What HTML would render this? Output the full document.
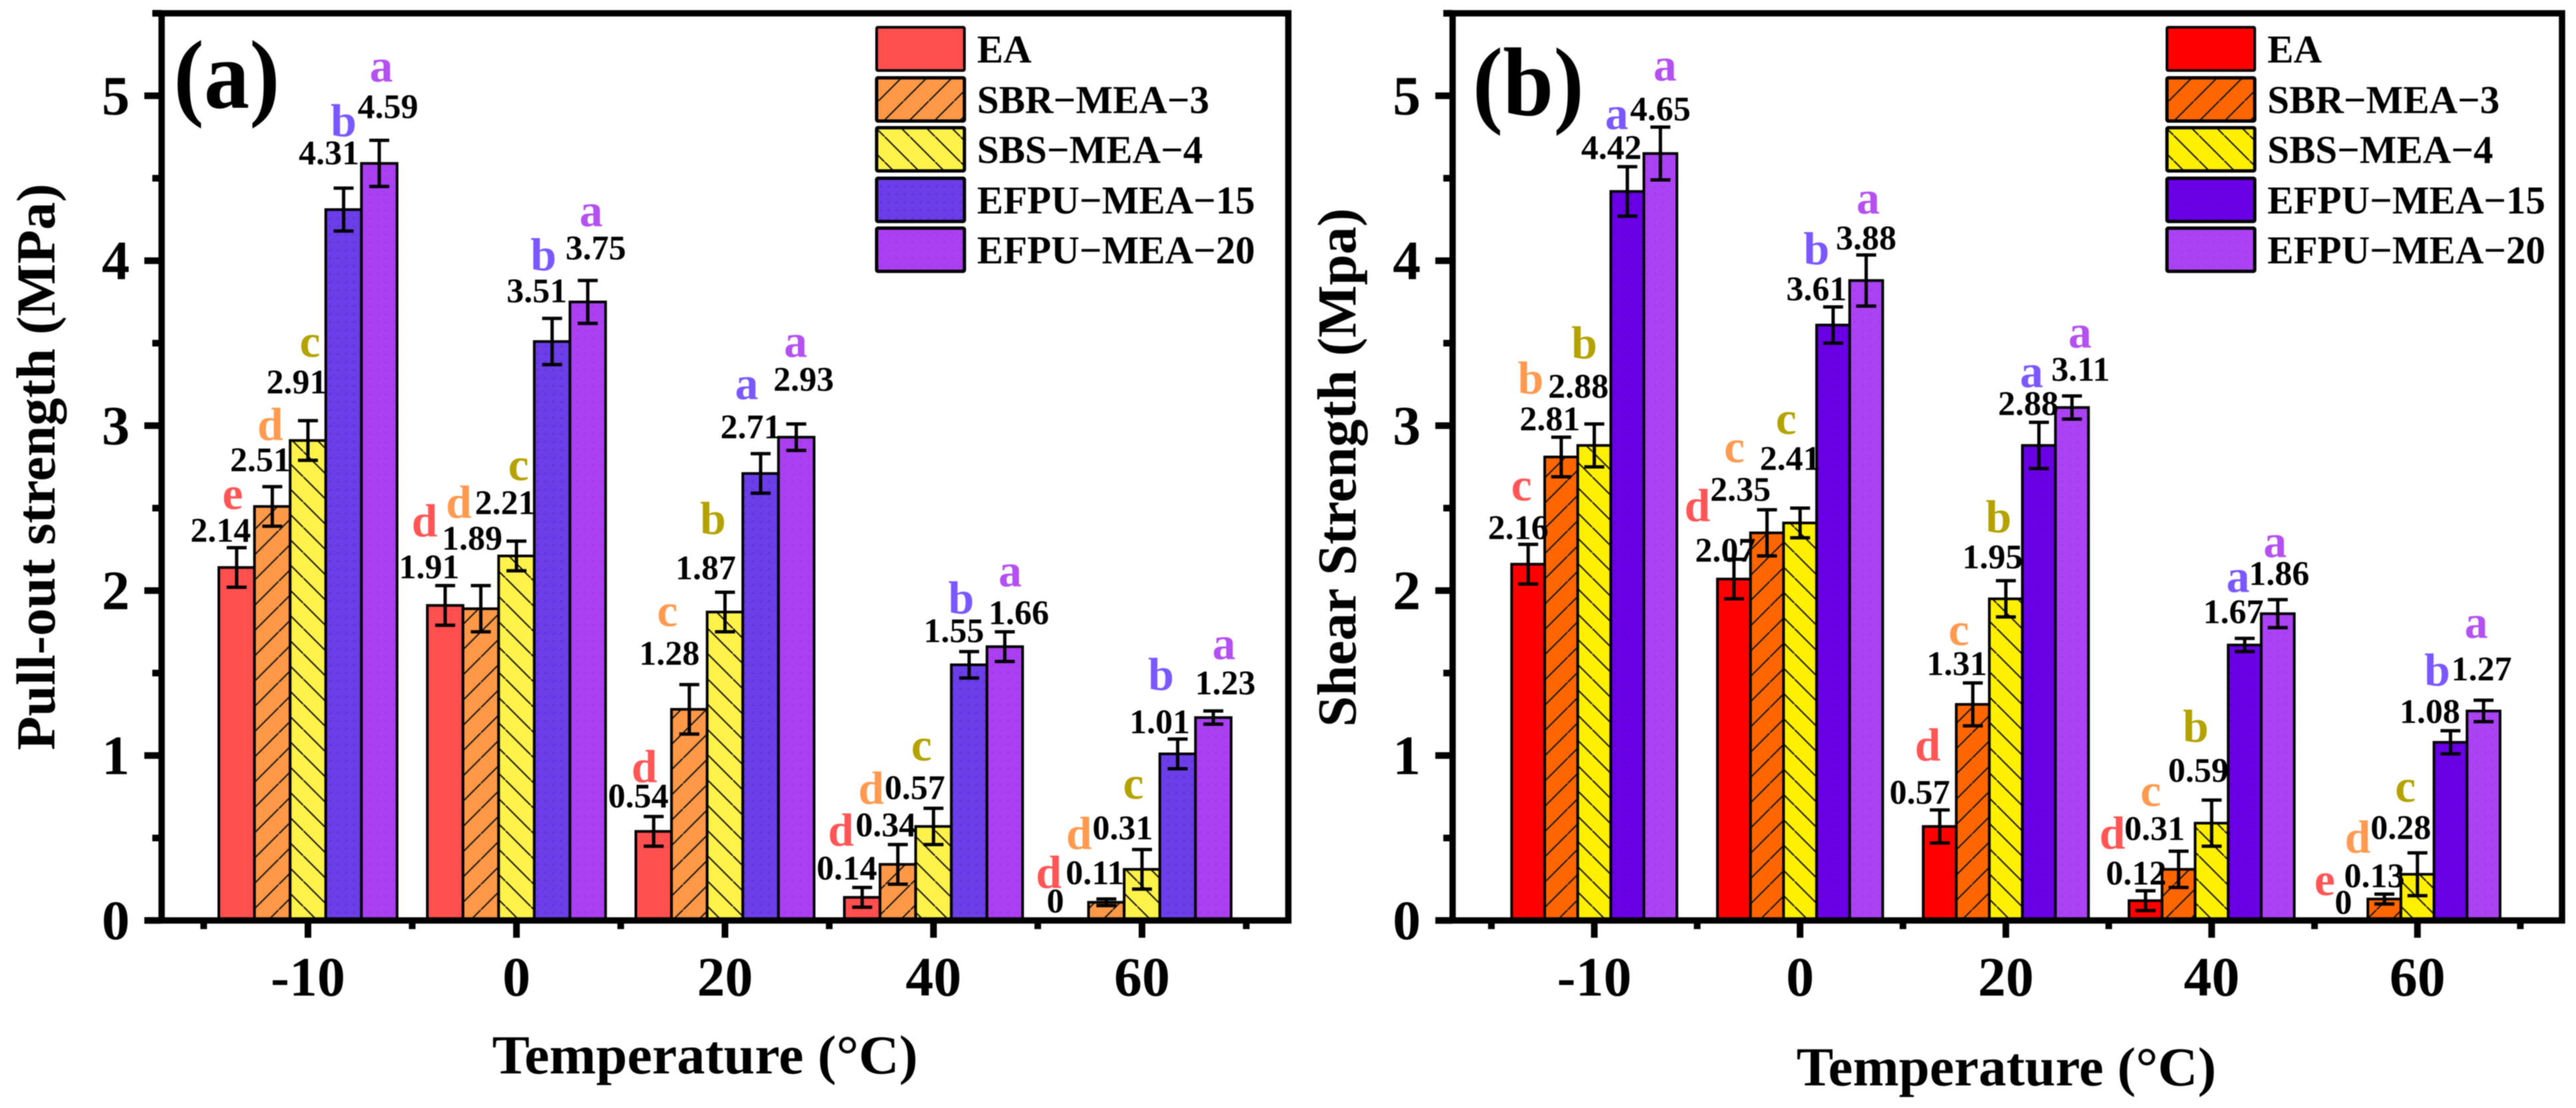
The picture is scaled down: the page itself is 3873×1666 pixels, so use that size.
<!DOCTYPE html>
<html lang="en">
<head>
<meta charset="utf-8">
<title>Pull-out and shear strength vs temperature</title>
<style>
html,body{margin:0;padding:0;background:#fff;}
svg{display:block;filter:blur(0.7px);}
text{font-family:"Liberation Serif",serif;font-weight:bold;fill:#000;}
</style>
</head>
<body>
<svg id="figure" xmlns="http://www.w3.org/2000/svg" width="3873" height="1666" viewBox="0 0 3873 1666">
  <rect x="0" y="0" width="3873" height="1666" fill="#fff"/>
  <defs id="defs"></defs>
  <g id="panel-a"></g>
  <g id="panel-b"></g>
  <text transform="translate(261,162) scale(1,1.07)" font-size="137">(a)</text>
  <text transform="translate(2214,173) scale(1,1.07)" font-size="137">(b)</text>
  <text transform="translate(82,1128) rotate(-90)" font-size="83" textLength="852" lengthAdjust="spacingAndGlyphs">Pull-out strength (MPa)</text>
  <text transform="translate(2038,1093) rotate(-90)" font-size="83" textLength="780" lengthAdjust="spacingAndGlyphs">Shear Strength (Mpa)</text>
  <text x="740" y="1614" font-size="83" textLength="640" lengthAdjust="spacingAndGlyphs">Temperature (°C)</text>
  <text x="2701" y="1632" font-size="83" textLength="631" lengthAdjust="spacingAndGlyphs">Temperature (°C)</text>
</svg>
<script>
// ---------- chart data ----------
const categories = ['-10', '0', '20', '40', '60'];
const seriesNames = ['EA', 'SBR\u2212MEA\u22123', 'SBS\u2212MEA\u22124', 'EFPU\u2212MEA\u221215', 'EFPU\u2212MEA\u221220'];
const yTickLabels = [0, 1, 2, 3, 4, 5];

const pulloutEA = [2.14, 1.91, 0.54, 0.14, 0];
const pulloutSBR = [2.51, 1.89, 1.28, 0.34, 0.11];
const pulloutSBS = [2.91, 2.21, 1.87, 0.57, 0.31];
const pulloutEFPU15 = [4.31, 3.51, 2.71, 1.55, 1.01];
const pulloutEFPU20 = [4.59, 3.75, 2.93, 1.66, 1.23];

const pulloutErrEA = [0.12, 0.12, 0.09, 0.06, 0];
const pulloutErrSBR = [0.12, 0.14, 0.15, 0.12, 0.02];
const pulloutErrSBS = [0.12, 0.09, 0.12, 0.11, 0.12];
const pulloutErrEFPU15 = [0.13, 0.14, 0.12, 0.08, 0.09];
const pulloutErrEFPU20 = [0.14, 0.13, 0.08, 0.09, 0.04];

const pulloutLettersEA = ['e', 'd', 'd', 'd', 'd'];
const pulloutLettersSBR = ['d', 'd', 'c', 'd', 'd'];
const pulloutLettersSBS = ['c', 'c', 'b', 'c', 'c'];
const pulloutLettersEFPU15 = ['b', 'b', 'a', 'b', 'b'];
const pulloutLettersEFPU20 = ['a', 'a', 'a', 'a', 'a'];

const shearEA = [2.16, 2.07, 0.57, 0.12, 0];
const shearSBR = [2.81, 2.35, 1.31, 0.31, 0.13];
const shearSBS = [2.88, 2.41, 1.95, 0.59, 0.28];
const shearEFPU15 = [4.42, 3.61, 2.88, 1.67, 1.08];
const shearEFPU20 = [4.65, 3.88, 3.11, 1.86, 1.27];

const shearErrEA = [0.12, 0.12, 0.10, 0.06, 0];
const shearErrSBR = [0.12, 0.14, 0.13, 0.11, 0.03];
const shearErrSBS = [0.13, 0.09, 0.11, 0.14, 0.13];
const shearErrEFPU15 = [0.15, 0.11, 0.14, 0.04, 0.07];
const shearErrEFPU20 = [0.16, 0.155, 0.07, 0.085, 0.065];

const shearLettersEA = ['c', 'd', 'd', 'd', 'e'];
const shearLettersSBR = ['b', 'c', 'c', 'c', 'd'];
const shearLettersSBS = ['b', 'c', 'b', 'b', 'c'];
const shearLettersEFPU15 = ['a', 'b', 'a', 'a', 'b'];
const shearLettersEFPU20 = ['a', 'a', 'a', 'a', 'a'];

// ---------- layout (not data): label nudges relative to each bar top ----------
// per bar: [valueDx, valueDy, letterDx, letterDy]
const labelNudgeA = [
  [[-24,-39,-6,-88],[-18,-53,-3,-100],[-17,-71,3,-126],[-22,-68,0,-110],[13,-68,3,-123]],
  [[-24,-41,-31,-104],[-13,-89,-33,-137],[-17,-63,3,-114],[-23,-59,-13,-107],[12,-64,5,-114]],
  [[-23,-36,-14,-74],[-30,-67,-33,-125],[-29,-49,-18,-117],[-15,-53,-21,-112],[11,-70,-1,-121]],
  [[-23,-27,-32,-78],[-18,-42,-40,-91],[-28,-41,-18,-99],[-23,-34,-12,-77],[21,-34,8,-91]],
  [[-23,-12,-33,-49],[-17,-27,-41,-80],[-29,-45,-13,-106],[-27,-31,-25,-96],[18,-35,16,-88]]
];
const labelNudgeB = [
  [[-15,-38,-10,-96],[-17,-40,-46,-95],[-24,-72,-15,-131],[-24,-49,-16,-94],[0,-50,7,-110]],
  [[-13,-26,-55,-87],[-40,-48,-49,-106],[-15,-80,-21,-134],[-25,-37,-25,-91],[0,-47,3,-101]],
  [[-30,-34,-18,-99],[-24,-44,-21,-89],[-20,-46,-11,-100],[-16,-46,-11,-88],[13,-40,12,-90]],
  [[-14,-24,-50,-78],[-36,-44,-42,-95],[-20,-62,-24,-122],[-17,-33,-10,-80],[2,-43,-4,-85]],
  [[-12,-10,-40,-38],[-15,-18,-40,-70],[-25,-53,-18,-109],[-31,-29,-20,-85],[-3,-46,-11,-110]]
];
const letterColors = ['#ff5555', '#ff9a50', '#b3a200', '#7b57ff', '#b450f0'];

const NS = 'http://www.w3.org/2000/svg';
function mk(parent, tag, attrs, txt) {
  const el = document.createElementNS(NS, tag);
  for (const k in attrs) el.setAttribute(k, attrs[k]);
  if (txt !== undefined) el.textContent = txt;
  parent.appendChild(el);
  return el;
}

// ---------- fill patterns ----------
const defs = document.getElementById('defs');
function hatch(id, color, period, dir, dx, dy) {
  const p = mk(defs, 'pattern', {id: id, patternUnits: 'userSpaceOnUse', width: period, height: period, patternTransform: 'translate(' + dx + ',' + dy + ')'});
  mk(p, 'rect', {x: 0, y: 0, width: period, height: period, fill: color});
  const pts = dir > 0 ? [[-2, period + 2], [period + 2, -2]] : [[-2, -2], [period + 2, period + 2]];
  mk(p, 'line', {x1: pts[0][0], y1: pts[0][1], x2: pts[1][0], y2: pts[1][1], stroke: '#1a1a1a', 'stroke-width': 2.2});
}
function dots(id, color, dotColor) {
  const p = mk(defs, 'pattern', {id: id, patternUnits: 'userSpaceOnUse', width: 12, height: 12});
  mk(p, 'rect', {x: 0, y: 0, width: 12, height: 12, fill: color});
  mk(p, 'rect', {x: 3, y: 3, width: 3, height: 3, fill: dotColor});
}
function fillSet(prefix, colors, legSbr, legSbs) {
  hatch(prefix + '-sbr', colors[1], 38, 1, 1, 0);
  hatch(prefix + '-sbs', colors[2], 38, -1, 0, 33);
  hatch(prefix + '-sbr-leg', colors[1], 38, 1, legSbr, 0);
  hatch(prefix + '-sbs-leg', colors[2], 38, -1, 0, legSbs);
  dots(prefix + '-ef15', colors[3], colors[5]);
  dots(prefix + '-ef20', colors[4], colors[6]);
  return {
    bar: [colors[0], 'url(#' + prefix + '-sbr)', 'url(#' + prefix + '-sbs)', 'url(#' + prefix + '-ef15)', 'url(#' + prefix + '-ef20)'],
    leg: [colors[0], 'url(#' + prefix + '-sbr-leg)', 'url(#' + prefix + '-sbs-leg)', 'url(#' + prefix + '-ef15)', 'url(#' + prefix + '-ef20)']
  };
}
const fillsA = fillSet('a', ['#ff4f4f', '#ff9847', '#fff24a', '#6b3ee8', '#ab3ff2', '#5f33d6', '#a238e6'], 28.5, 15.5);
const fillsB = fillSet('b', ['#ff0000', '#ff6600', '#fff000', '#6a00e6', '#ab42f4', '#5e00d0', '#a23ce8'], 30.5, 13.5);

// ---------- panel drawing ----------
function drawPanel(cfg) {
  const g = document.getElementById(cfg.id);
  const yOf = function (v) { return cfg.y0 - cfg.yUnit * v; };
  const xOf = function (i) { return cfg.x0 + cfg.xStep * i; };

  const barsLayer = mk(g, 'g', {});
  const errLayer = mk(g, 'g', {});
  const labelLayer = mk(g, 'g', {});

  categories.forEach(function (cat, c) {
    cfg.values.forEach(function (series, s) {
      const v = series[c];
      const e = cfg.errors[s][c];
      const cx = xOf(c) + (s - 2) * cfg.barW;
      const top = yOf(v);
      if (v > 0) {
        const bar = mk(barsLayer, 'rect', {x: cx - cfg.barW / 2, y: top, width: cfg.barW, height: cfg.y0 - top, fill: cfg.fills.bar[s], stroke: '#000', 'stroke-width': 4});
        
        
      }
      if (v > 0 && e > 0) {
        const eb = mk(errLayer, 'path', {d: 'M' + (cx - 15) + ' ' + yOf(v + e) + 'H' + (cx + 15) + 'M' + cx + ' ' + yOf(v + e) + 'V' + yOf(v - e) + 'M' + (cx - 15) + ' ' + yOf(v - e) + 'H' + (cx + 15), fill: 'none', stroke: '#000', 'stroke-width': 5});
        
        
      }
      const n = cfg.nudge[c][s];
      const valueLabel = mk(labelLayer, 'text', {x: cx + n[0], y: top + n[1], 'font-size': 52, 'text-anchor': 'middle'}, v === 0 ? '0' : v.toFixed(2));
      
      
      const letter = mk(labelLayer, 'text', {x: cx + n[2], y: top + n[3], 'font-size': 70, 'text-anchor': 'middle', style: 'fill:' + letterColors[s]}, cfg.letters[s][c]);
      
      
    });
  });

  // axes frame
  const yTop = yOf(5.5);
  const frame = mk(g, 'path', {d: 'M' + (cfg.left - 14) + ' ' + yTop + 'H' + cfg.right + 'V' + cfg.y0 + 'H' + (cfg.left - 26) + 'M' + cfg.left + ' ' + yTop + 'V' + cfg.y0, fill: 'none', stroke: '#000', 'stroke-width': 9.5});
  
  

  // y ticks
  yTickLabels.forEach(function (t) {
    const tick = mk(g, 'line', {x1: cfg.left - 26, x2: cfg.left, y1: yOf(t), y2: yOf(t), stroke: '#000', 'stroke-width': 10});
    
    
    const lab = mk(g, 'text', {x: cfg.left - 48, y: yOf(t) + 28, 'font-size': 84, 'text-anchor': 'end'}, String(t));
    
    
    const minor = mk(g, 'line', {x1: cfg.left - 14, x2: cfg.left, y1: yOf(t + 0.5), y2: yOf(t + 0.5), stroke: '#000', 'stroke-width': 10});
    
    
  });

  // x ticks
  categories.forEach(function (cat, c) {
    const tick = mk(g, 'line', {x1: xOf(c), x2: xOf(c), y1: cfg.y0, y2: cfg.y0 + 26, stroke: '#000', 'stroke-width': 10});
    
    
    const lab = mk(g, 'text', {x: xOf(c), y: 1497, 'font-size': 84, 'text-anchor': 'middle'}, cat);
    
    
    [c - 0.5, c + 0.5].forEach(function (m) {
      if (m > 0 && m < categories.length - 1 && m === c - 0.5) return;
      const minor = mk(g, 'line', {x1: xOf(m), x2: xOf(m), y1: cfg.y0, y2: cfg.y0 + 13, stroke: '#000', 'stroke-width': 10});
      
      
    });
  });

  // legend
  const rowTops = [41, 117, 192, 268, 343];
  const legend = mk(g, 'g', {});
  
  
  seriesNames.forEach(function (name, s) {
    const swatch = mk(legend, 'rect', {x: cfg.legendX, y: rowTops[s], width: 132, height: 65, rx: 2, fill: cfg.fills.leg[s], stroke: '#000', 'stroke-width': s > 0 ? 5 : 4});
    
    
    const text = mk(legend, 'text', {x: cfg.legendX + 151, y: rowTops[s] + 53, 'font-size': 59}, name);
    
    
  });
}

drawPanel({
  id: 'panel-a', key: 'a', left: 243, right: 1937, y0: 1384, yUnit: 248, x0: 463, xStep: 313.5, barW: 53.6,
  values: [pulloutEA, pulloutSBR, pulloutSBS, pulloutEFPU15, pulloutEFPU20],
  errors: [pulloutErrEA, pulloutErrSBR, pulloutErrSBS, pulloutErrEFPU15, pulloutErrEFPU20],
  letters: [pulloutLettersEA, pulloutLettersSBR, pulloutLettersSBS, pulloutLettersEFPU15, pulloutLettersEFPU20],
  nudge: labelNudgeA, fills: fillsA, legendX: 1318
});
drawPanel({
  id: 'panel-b', key: 'b', left: 2184, right: 3852, y0: 1384, yUnit: 248, x0: 2397, xStep: 309.4, barW: 49.7,
  values: [shearEA, shearSBR, shearSBS, shearEFPU15, shearEFPU20],
  errors: [shearErrEA, shearErrSBR, shearErrSBS, shearErrEFPU15, shearErrEFPU20],
  letters: [shearLettersEA, shearLettersSBR, shearLettersSBS, shearLettersEFPU15, shearLettersEFPU20],
  nudge: labelNudgeB, fills: fillsB, legendX: 3258
});
</script>
</body>
</html>
